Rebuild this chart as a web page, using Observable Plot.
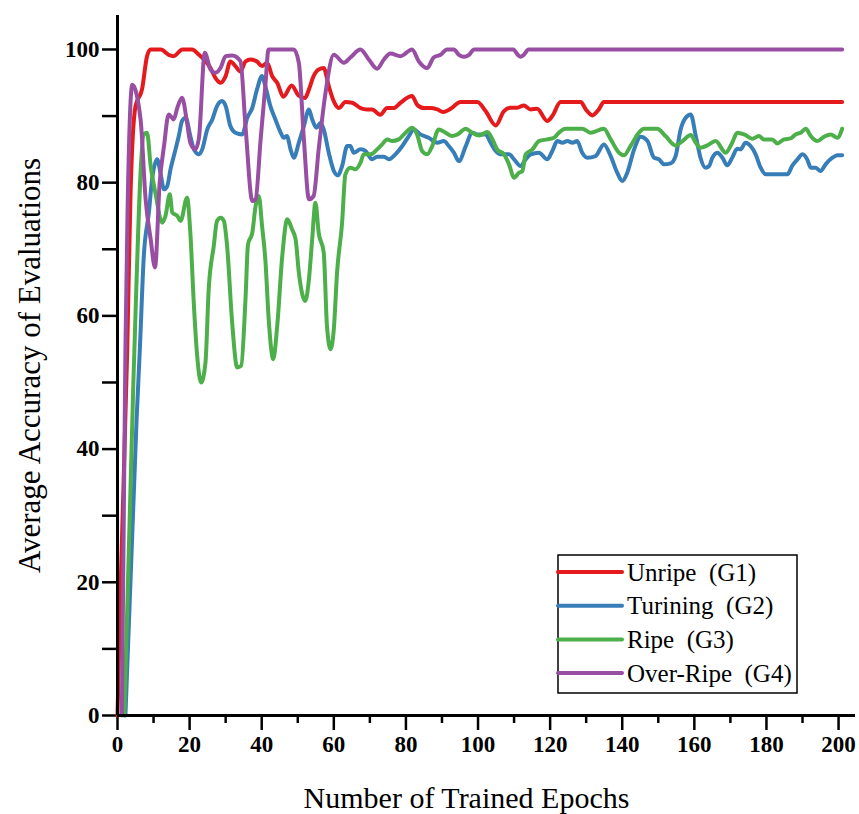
<!DOCTYPE html>
<html><head><meta charset="utf-8">
<script src="https://cdn.jsdelivr.net/npm/d3@7"></script>
<script src="https://cdn.jsdelivr.net/npm/@observablehq/plot@0.6"></script>
<style>
body{margin:0;background:#fff}
svg g[aria-label="x-axis tick"], svg g[aria-label="y-axis tick"]{stroke-width:2.5px}
svg g[aria-label="x-axis"] .tick line, svg g[aria-label="y-axis"] .tick line{stroke-width:2.5px}
</style></head><body><div id="chart"></div>
<script>
const seriesNames = ["Unripe  (G1)", "Turining  (G2)", "Ripe  (G3)", "Over-Ripe  (G4)"];
const seriesColors = ["#e41a1c", "#377eb8", "#4daf4a", "#984ea3"];

// [epoch, average accuracy]
const unripeG1 = [[0,0],[0.8,18],[2.7,55],[3.6,78],[5,91.5],[6.8,94],[8.2,99],[9.2,100],[12,100],[14.2,99.2],[15.6,99],[18,100],[20.7,100],[22.6,99.2],[24,98.5],[25.8,97.2],[27.2,95.7],[28.6,95],[30,96],[31.3,98.2],[32.7,97.5],[34.1,96.7],[35.5,98.2],[36.9,98.5],[38.7,98.2],[40.1,97.5],[41.5,98],[42.9,96],[44.3,95],[46,92.9],[48.3,94.6],[50.2,93.1],[52,92.7],[53.1,94],[54.4,96],[55.8,97],[57.2,97.2],[58.6,94.5],[60,92.2],[61.4,91.2],[63.2,92.1],[65.1,92],[67.4,91.2],[69.2,91],[70.6,91],[72.9,90.2],[74.8,91.2],[76.6,91.2],[78.5,92],[81.7,93],[83.1,91.7],[85,91.2],[86.8,91.2],[88.7,91],[90.5,90.6],[92.4,91.1],[95.2,92.1],[99.8,92.1],[102.1,90.75],[104.9,88.6],[107.2,90.75],[109,91.25],[110.9,91.25],[112.7,91.6],[114.6,91],[116.4,91.1],[119.2,89.25],[120.6,90],[122.9,92.1],[128.5,92.1],[129.9,91],[131.7,90.1],[133.5,91],[134.9,92.1],[201,92.1]];

const turiningG2 = [[2.2,0],[5.3,44.5],[6.2,55],[7.3,69],[8.7,75.5],[9.6,80.5],[11,83.5],[11.9,81.5],[12.9,79],[13.8,79.5],[14.7,82],[16.1,85],[17,87],[17.9,89.25],[18.9,89.75],[20.2,87],[21.2,85],[22.6,84.25],[23.5,85],[24.9,88],[26.3,89.5],[27.6,91.5],[29,92.25],[30,91.5],[31.3,88.5],[32.7,87.5],[34.6,87.25],[36,89.75],[37.4,91.25],[38.7,94],[40.1,96],[41,94.5],[42.4,91.5],[43.8,89.5],[45.2,87.6],[46.1,86.75],[47,87],[48,85],[48.9,83.75],[50.3,86],[51.7,88.5],[53.1,91],[54,89.5],[55.2,88.25],[56.3,89],[57.2,88],[58.6,84.5],[60,81.75],[61.1,81.1],[62.3,82.5],[63.7,85.5],[64.6,85.5],[65.5,84.5],[67.4,85],[68.8,84.75],[70.6,83.5],[72,83.9],[73.9,83.9],[75.3,83.5],[77.1,84.25],[79,85.5],[80.8,87],[82.2,88],[84,87.25],[86.3,86.75],[88.7,86],[90.5,86.25],[91.9,85.5],[93.3,84.5],[94.7,83.25],[96.6,85.5],[98.4,87.5],[99.8,87.25],[102.1,87.25],[103.5,86],[104.9,84.75],[106.3,84.25],[108.6,84.25],[110,83.5],[111.8,82.5],[113.2,83.5],[114.6,84.25],[116.9,84.5],[119.2,83.5],[120.6,84.75],[122,86.25],[123.4,86],[124.8,86.25],[126.2,86],[127.5,86.25],[128.9,84.5],[130.3,83.75],[132.6,84],[134.9,85.75],[136.8,84],[138.6,81.5],[140,80.25],[141.4,81.5],[143.3,85],[145.1,86.9],[147,86.25],[148.8,83.75],[150.2,83.5],[151.6,82.75],[153.4,82.9],[154.8,84],[156.2,88],[157.6,89.75],[159,90.25],[160.4,87],[161.7,83.75],[163.1,82.25],[164.1,82.5],[165,83.75],[166.4,84.5],[167.8,83.75],[169.1,82.6],[170.5,83.75],[171.9,85.1],[172.8,85],[174.2,86],[175.6,85.5],[177,84.25],[178.4,82.25],[179.8,81.25],[181.6,81.25],[183.5,81.25],[185.8,81.25],[187.2,82.6],[188.6,83.5],[190,84.25],[191.3,83.5],[192.3,82.25],[193.6,82.25],[195,81.75],[196.4,82.75],[198.3,83.75],[199.7,84.1],[201,84.1]];

const ripeG3 = [[1.9,0],[4.4,50],[7.3,87.25],[8.2,87.5],[9.2,82.5],[10.5,78.5],[12.4,74],[13.3,75],[14.5,78.25],[15.2,75.5],[16.6,75],[17.5,74.25],[19.3,77.75],[20.2,72.5],[21.2,61.5],[22.1,54],[23.2,50],[24.4,53],[25.3,64],[26.7,70.5],[27.6,74.25],[28.6,74.75],[29.5,74.25],[30.4,70.5],[31.8,59],[33.2,52.25],[34.3,52.5],[35.5,62.5],[36.2,70.75],[37.4,72.5],[38.3,76.5],[39.2,78],[40.1,73.5],[41,68.5],[42,59],[43.2,53.5],[44.3,58.5],[45.7,69],[47.1,74.5],[48.4,73],[49.4,71.5],[50.3,66.5],[52.1,62.25],[53.1,65.5],[54,71.5],[54.9,77],[55.8,72.5],[57.2,69.5],[58.1,58.5],[59.1,55],[60,58],[60.9,66.5],[62.3,74],[63.2,81.25],[64.6,82.25],[66,82],[67.4,83],[68.3,84.25],[70.2,84.25],[72,85],[73.4,85.75],[74.8,86.5],[76.2,86.25],[78,86.5],[79.9,87.5],[81.7,88.25],[83.1,87.25],[84.5,84.75],[85.9,84.25],[87.3,85.5],[89.1,88],[91,87.5],[92.8,87],[94.3,87.25],[96.6,88.1],[98.4,87.5],[100.3,87.1],[102.6,87.6],[104,86.5],[105.3,85],[107.2,84.25],[108.6,82.75],[110,80.75],[111.4,81.5],[112.3,81.75],[113.2,84.25],[115.1,85],[116.9,86.25],[119.2,86.5],[121.1,86.75],[122.4,87.5],[124.3,88.1],[128.9,88.1],[131.2,87.5],[134.9,88.1],[136.8,86.5],[139.1,84.5],[140.5,84.1],[142.3,85.5],[144.6,87.5],[146,88.1],[149.7,88.1],[152,87],[154.8,85.6],[156.7,86.25],[159,87.15],[160.4,86],[161.7,85.25],[163.6,85.6],[165.9,86.25],[168.7,84.5],[170.5,86],[171.9,87.5],[173.8,87.25],[176.1,86.6],[177.9,87],[179.3,86.5],[181.6,86.5],[183,85.9],[184.9,86.5],[186.7,86.65],[188.1,87.25],[189.5,87.5],[190.9,88.1],[192.3,87],[194.1,86.25],[196,86.9],[197.8,87.25],[199.7,86.75],[201,88.1]];

const overRipeG4 = [[1.2,0],[2.2,55],[2.8,76],[4.1,94.7],[6.4,89.5],[7.8,77.5],[9.2,71.5],[10.4,67.25],[11.7,80],[12.9,85.5],[14.2,90.25],[15.6,89.5],[16.6,91.25],[17.9,92.75],[19.3,89],[20.2,86],[21.6,85],[22.6,86.75],[24.2,99.5],[25.8,97],[27.2,96.5],[28.6,97.25],[30,99],[31.8,99.1],[34.1,98.25],[35.5,88.5],[37.4,77.25],[38.3,77.5],[39.7,86.5],[41,94.5],[41.9,100],[48.9,100],[50.3,98],[51.7,86.5],[53.1,77.5],[54.4,78],[55.8,85],[57.7,93.5],[60,99.2],[62.8,98],[64.6,98.8],[67.4,100],[69.7,98.5],[72,97.1],[73.9,98.5],[75.7,99.4],[78.5,99],[81.7,100],[83.6,98.2],[85.9,97.2],[87.7,98.8],[89.6,99.2],[91.4,100],[93.3,100],[94.7,99.2],[96.1,98.9],[97.5,99.2],[98.9,100],[109.8,100],[111,99.2],[111.8,98.9],[112.7,99.2],[114,100],[201,100]];

const xMajorTicks = [0,20,40,60,80,100,120,140,160,180,200];
const xMinorTicks = [10,30,50,70,90,110,130,150,170,190];
const yTicks = [0,10,20,30,40,50,60,70,80,90,100];
const xTitle = "Number of Trained Epochs";
const yTitle = "Average Accuracy of Evaluations";

const allSeries = [unripeG1, turiningG2, ripeG3, overRipeG4];
const rows = [];
allSeries.forEach((s, i) => s.forEach(([e, a]) => rows.push({series: seriesNames[i], epoch: e, acc: a})));

const serif = "Liberation Serif, Times New Roman, Times, serif";
const W = 859, H = 814, mL = 117, mR = 4, mT = 15, mB = 99;
const xMax = 204.7, yMax = 105.1;
const innerH = H - mT - mB;
const minorLen = 8 * yMax / innerH;

const chart = Plot.plot({
  width: W, height: H,
  marginLeft: mL, marginRight: mR, marginTop: mT, marginBottom: mB,
  style: {background: "#fff", fontFamily: serif, fontSize: "23px", fontWeight: "bold", color: "#000", overflow: "visible"},
  x: {domain: [0, xMax], ticks: xMajorTicks, tickSize: 15, tickPadding: 5, label: null, tickFormat: d => String(d)},
  y: {domain: [0, yMax], ticks: yTicks, tickSize: 15, tickPadding: 3, label: null, tickFormat: d => (d % 20 === 0 ? String(d) : "")},
  color: {domain: seriesNames, range: seriesColors},
  marks: [
    Plot.line(rows, {x: "epoch", y: "acc", stroke: "series", z: "series", strokeWidth: 4, curve: "monotone-x", strokeLinejoin: "round"}),
    Plot.ruleX([0], {stroke: "#000", strokeWidth: 3}),
    Plot.ruleY([0], {stroke: "#000", strokeWidth: 3}),
    Plot.ruleX(xMinorTicks, {y1: 0, y2: -minorLen, stroke: "#000", strokeWidth: 2.5}),
    Plot.text([xTitle], {frameAnchor: "bottom", dx: -20, dy: 83, lineAnchor: "middle", textAnchor: "middle", fontSize: 30, fontWeight: "normal", fill: "#000"}),
    Plot.text([yTitle], {frameAnchor: "left", dx: -87, rotate: -90, lineAnchor: "middle", textAnchor: "middle", fontSize: 31, fontWeight: "normal", fill: "#000"})
  ]
});

// legend inside the plot area
const svg = d3.select(chart);
const lg = svg.append("g").attr("font-family", serif).attr("font-weight", "normal").attr("text-anchor", "start");
const boxX = 558, boxY = 555, boxW = 239, boxH = 138, rowGap = 33.7, firstRow = 572;
lg.append("rect").attr("x", boxX).attr("y", boxY).attr("width", boxW).attr("height", boxH)
  .attr("fill", "#fff").attr("stroke", "#000").attr("stroke-width", 1.5);
seriesNames.forEach((name, i) => {
  const yy = firstRow + i * rowGap;
  lg.append("line").attr("x1", boxX).attr("x2", boxX + 64).attr("y1", yy).attr("y2", yy)
    .attr("stroke", seriesColors[i]).attr("stroke-width", 4).attr("stroke-linecap", "round");
  lg.append("text").attr("x", boxX + 69).attr("y", yy + 8.5).attr("font-size", 25).attr("fill", "#000")
    .attr("text-anchor", "start").style("white-space", "pre").text(name);
});

document.getElementById("chart").appendChild(chart);
</script>
</body></html>
